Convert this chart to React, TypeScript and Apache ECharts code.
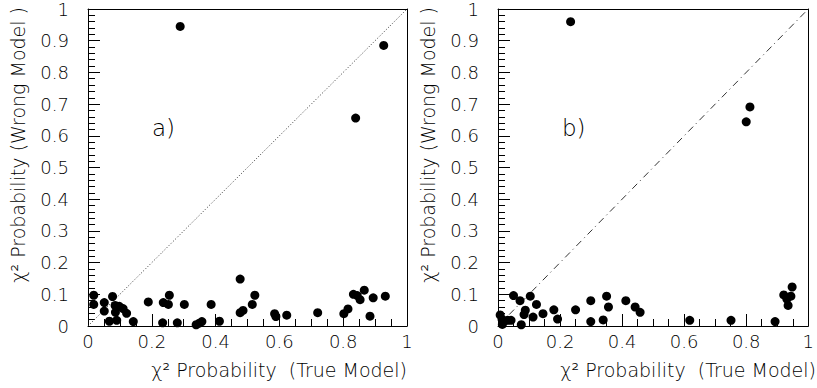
import React, { useEffect, useRef } from "react";
import * as echarts from "echarts";

const aX = [0.289, 0.927, 0.839, 0.477, 0.018, 0.018, 0.051, 0.051, 0.077, 0.085, 0.086, 0.067, 0.090, 0.098, 0.110, 0.121, 0.142, 0.189, 0.236, 0.252, 0.255, 0.234, 0.280, 0.302, 0.339, 0.349, 0.357, 0.386, 0.412, 0.477, 0.486, 0.515, 0.523, 0.585, 0.589, 0.623, 0.720, 0.802, 0.815, 0.832, 0.844, 0.853, 0.866, 0.884, 0.894, 0.932];
const aY = [0.945, 0.885, 0.656, 0.148, 0.097, 0.068, 0.074, 0.047, 0.093, 0.065, 0.043, 0.015, 0.018, 0.062, 0.055, 0.040, 0.014, 0.076, 0.074, 0.068, 0.097, 0.010, 0.010, 0.068, 0.004, 0.009, 0.014, 0.068, 0.015, 0.042, 0.049, 0.068, 0.097, 0.039, 0.030, 0.034, 0.042, 0.039, 0.054, 0.100, 0.096, 0.083, 0.113, 0.031, 0.089, 0.094];

const bX = [0.234, 0.812, 0.800, 0.007, 0.013, 0.014, 0.021, 0.031, 0.042, 0.050, 0.071, 0.075, 0.084, 0.088, 0.104, 0.113, 0.124, 0.145, 0.180, 0.192, 0.250, 0.299, 0.299, 0.339, 0.350, 0.356, 0.412, 0.442, 0.458, 0.618, 0.751, 0.893, 0.921, 0.931, 0.935, 0.944, 0.948];
const bY = [0.960, 0.691, 0.644, 0.035, 0.021, 0.005, 0.016, 0.018, 0.018, 0.096, 0.080, 0.004, 0.036, 0.050, 0.094, 0.028, 0.068, 0.039, 0.051, 0.022, 0.051, 0.080, 0.014, 0.019, 0.094, 0.060, 0.080, 0.060, 0.043, 0.018, 0.018, 0.014, 0.098, 0.085, 0.065, 0.094, 0.123];

const diagonalA = [[0, 0], [1, 1]];
const diagonalB = [[0, 0], [1, 1]];
const xTitle = "χ² Probability  (True Model)";
const yTitle = "χ² Probability (Wrong Model )";
const panelLabels = ["a)", "b)"];

const FONT = "DejaVu Sans";

export default function App() {
  const ref = useRef<HTMLDivElement>(null);
  useEffect(() => {
    if (!ref.current) return;
    const chart = echarts.init(ref.current, null, { renderer: "svg" });
    const fmt = (v: number) => String(Math.round(v * 10) / 10);
    const lbl = () => ({ color: "#000", fontFamily: FONT, fontWeight: 200 as any, fontSize: 18 });
    const black = () => ({ color: "#000", width: 1 });
    const grids = [
      { left: 88, top: 7, width: 319, height: 319 },
      { left: 498, top: 7, width: 318, height: 319 },
    ];
    const frameAxis = (i: number, position: string) => ({
      type: "value",
      gridIndex: i,
      position,
      min: 0,
      max: 1,
      axisLine: { show: true, onZero: false, lineStyle: black() },
      axisTick: { show: false },
      minorTick: { show: false },
      axisLabel: { show: false },
      splitLine: { show: false },
    });
    const xAxes = [0, 1].map((i) => ({
      type: "value",
      gridIndex: i,
      position: "bottom",
      min: 0,
      max: 1,
      interval: 0.2,
      axisLine: { show: true, onZero: false, lineStyle: black() },
      axisTick: { show: true, inside: true, length: 12, lineStyle: black() },
      minorTick: { show: true, splitNumber: 4, length: 7, lineStyle: black() },
      splitLine: { show: false },
      axisLabel: { ...lbl(), margin: 6, formatter: fmt },
    }));
    const yAxes = [0, 1].map((i) => ({
      type: "value",
      gridIndex: i,
      position: "left",
      min: 0,
      max: 1,
      interval: 0.1,
      axisLine: { show: true, onZero: false, lineStyle: black() },
      axisTick: { show: true, inside: true, length: 12, lineStyle: black() },
      minorTick: { show: true, splitNumber: 5, length: 7, lineStyle: black() },
      splitLine: { show: false },
      axisLabel: { ...lbl(), margin: 19, formatter: fmt },
    }));
    const pts = (xs: number[], ys: number[]) => xs.map((x, i) => [x, ys[i]]);
    const option: any = {
      animation: false,
      grid: grids,
      xAxis: [...xAxes, frameAxis(0, "top"), frameAxis(1, "top")],
      yAxis: [...yAxes, frameAxis(0, "right"), frameAxis(1, "right")],
      series: [
        {
          type: "line",
          xAxisIndex: 0,
          yAxisIndex: 0,
          data: diagonalA,
          symbol: "none",
          lineStyle: { color: "#333", width: 1, type: [1, 2] },
          z: 1,
        },
        {
          type: "line",
          xAxisIndex: 1,
          yAxisIndex: 1,
          data: diagonalB,
          symbol: "none",
          lineStyle: { color: "#333", width: 1, type: [7, 4, 1, 4] },
          z: 1,
        },
        {
          type: "scatter",
          xAxisIndex: 0,
          yAxisIndex: 0,
          data: pts(aX, aY),
          symbol: "circle",
          symbolSize: 9,
          itemStyle: { color: "#000", opacity: 1 },
          z: 3,
        },
        {
          type: "scatter",
          xAxisIndex: 1,
          yAxisIndex: 1,
          data: pts(bX, bY),
          symbol: "circle",
          symbolSize: 9,
          itemStyle: { color: "#000", opacity: 1 },
          z: 3,
        },
      ],
      graphic: [
        ...[407, 816].map((x) => ({
          type: "text",
          x,
          y: 370,
          style: { text: xTitle, align: "right", verticalAlign: "middle", fill: "#000", font: `200 19px "${FONT}"` },
        })),
        ...[18, 428].map((x) => ({
          type: "text",
          x,
          y: 7,
          rotation: Math.PI / 2,
          style: { text: yTitle, align: "right", verticalAlign: "middle", fill: "#000", font: `200 19px "${FONT}"` },
        })),
        ...[152, 562].map((x, i) => ({
          type: "text",
          x,
          y: 128,
          style: { text: panelLabels[i], align: "left", verticalAlign: "middle", fill: "#000", font: `200 23px "${FONT}"` },
        })),
      ],
    };
    chart.setOption(option);
    return () => chart.dispose();
  }, []);
  return <div ref={ref} style={{ position: "absolute", left: 0, top: 0, width: 817, height: 388 }} />;
}
